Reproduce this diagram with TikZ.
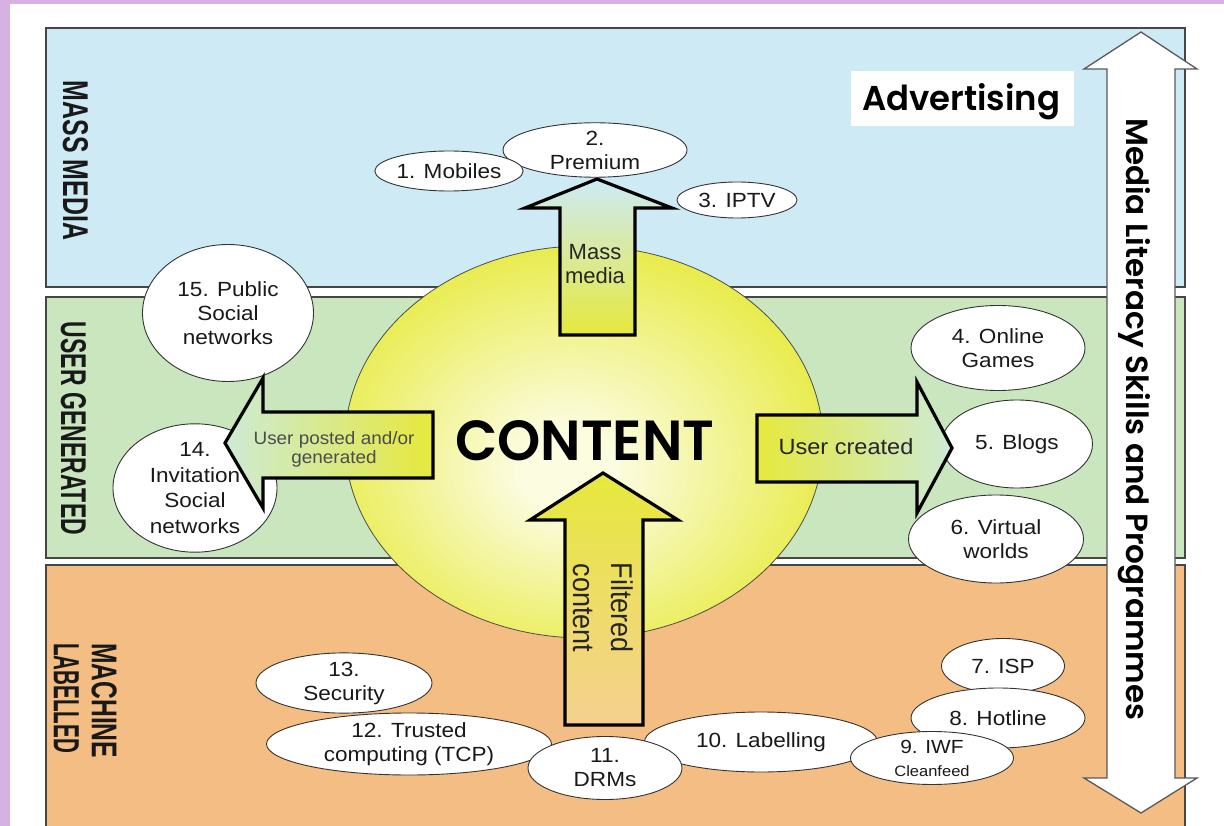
\documentclass[tikz,border=0pt]{standalone}
\usepackage{fontspec}
\setmainfont{Liberation Sans}
\newfontfamily\geo{Poppins SemiBold}
\usepackage{graphicx}
\usetikzlibrary{shapes.geometric}

\definecolor{bglav}{RGB}{214,178,226}
\definecolor{bandblue}{RGB}{206,234,245}
\definecolor{bandgreen}{RGB}{201,230,191}
\definecolor{bandorange}{RGB}{244,189,131}
\definecolor{bandline}{RGB}{70,70,70}
\definecolor{arrblue}{RGB}{205,235,245}
\definecolor{arryel}{RGB}{230,233,60}
\definecolor{arrgreen}{RGB}{205,234,214}
\definecolor{arrorange}{RGB}{246,208,145}
\definecolor{cyel}{RGB}{228,232,42}
\definecolor{cpale}{RGB}{252,252,225}

\pgfdeclareradialshading{contentshade}{\pgfpoint{-2bp}{-4bp}}{%
  color(0bp)=(cpale); color(5bp)=(cpale); color(32bp)=(cyel); color(50bp)=(cyel)}

\begin{document}
\begin{tikzpicture}[x=1pt,y=-1pt,
  band/.style={draw=bandline, line width=1.2pt},
  lab/.style={ellipse, draw=black!80, line width=0.9pt, fill=white, inner sep=0pt,
    align=center, text=black!90, font=\fontsize{20.5}{24}\selectfont, xscale=1.1},
  el/.style 2 args={lab, minimum width={#1pt/1.1}, minimum height={#2pt}},
  barrow/.style={draw=black, line width=3.2pt, line join=miter},
  side/.style={rotate=-90, inner sep=0pt, align=left, text=black!90,
    font=\fontsize{20}{38}\selectfont\bfseries},
  arrtxt/.style={inner sep=0pt, align=center, text=black!85},
]
\useasboundingbox (0,0) rectangle (1224,826);

% background
\fill[bglav] (0,0) rectangle (1224,826);
\fill[white] (10,4) rectangle (1224,828);

% bands
\path[fill=bandblue, band] (46,28) rectangle (1185,287);
\path[fill=bandgreen, band] (46,297) rectangle (1185,558);
\path[fill=bandorange, band] (46,565) rectangle (1185,840);

% band labels
\node[side] (lmass) at (75.5,160.5) {\resizebox{159pt}{25pt}{MASS MEDIA}};
\node[side] (luser) at (73.5,428.5) {\resizebox{213pt}{25pt}{USER GENERATED}};
\node[side, anchor=north west] (lmach) at (117,643)
  {\resizebox{115pt}{25pt}{MACHINE}\\\resizebox{110pt}{25pt}{LABELLED}};

% advertising
\node[fill=white, minimum width=223pt, minimum height=55pt, inner sep=0pt] (advbox) at (962.5,98.5) {};
\node[anchor=north west, inner sep=0pt] (advtext) at (862,83)
  {\resizebox{198pt}{27pt}{\geo Advertising}};

% central content ellipse
\node[ellipse, draw=black!70, line width=0.8pt, shade, shading=contentshade,
  minimum width=478pt, minimum height=392pt, inner sep=0pt] (content) at (584,442) {};
\node[anchor=north west, inner sep=0pt] (ctext) at (455,420)
  {\resizebox{259pt}{40pt}{\geo CONTENT}};

% mass media ellipses
\node[el={184}{54}] (e2) at (595,150) {2.\\Premium};
\node[el={142}{40}] (e1) at (449,171) {1. Mobiles};
\node[el={120}{36}] (e3) at (737,200) {3. IPTV};

% user generated ellipses
\node[el={171}{137}] (e15) at (228,313) {15. Public\\Social\\networks};
\node[el={164}{116}, font=\fontsize{20.5}{25.5}\selectfont] (e14) at (195,488) {14.\\Invitation\\Social\\networks};
\node[el={174}{85}] (e4) at (998,348) {4. Online\\Games};
\node[el={151}{88}] (e5) at (1017,444) {5. Blogs};
\node[el={175}{88}] (e6) at (996,539) {6. Virtual\\worlds};

% machine labelled ellipses
\node[el={123}{55}] (e7) at (1003,666) {7. ISP};
\node[el={174}{60}] (e8) at (998,718) {8. Hotline};
\node[el={233}{60}] (e10) at (761,742) {10. Labelling};
\node[el={163}{53}, font=\fontsize{19}{23}\selectfont] (e9) at (932,758) {9. IWF\\{\fontsize{15}{17}\selectfont Cleanfeed}};
\node[el={176}{59}] (e13) at (344,683) {13.\\Security};
\node[el={285}{62}] (e12) at (409,744) {12. Trusted\\computing (TCP)};
\node[el={154}{63}] (e11) at (605,768) {11.\\DRMs};

% block arrows
\path[barrow, top color=arrblue, bottom color=arryel]
  (597,179) -- (672,208) -- (635,208) -- (635,335) -- (560,335) -- (560,208) -- (525,208) -- cycle;
\path[barrow, left color=arrgreen, right color=arryel]
  (225,443) -- (263,378) -- (263,412) -- (433,412) -- (433,478) -- (263,478) -- (263,508) -- cycle;
\path[barrow, left color=arryel, right color=arrgreen]
  (757,415) -- (917,415) -- (917,382) -- (952,448) -- (917,513) -- (917,482) -- (757,482) -- cycle;
\path[barrow, top color=arryel, bottom color=arrorange]
  (603,473) -- (678,520) -- (643,520) -- (643,725) -- (565,725) -- (565,520) -- (530,520) -- cycle;

\node[arrtxt, font=\fontsize{22}{24}\selectfont] (tmass) at (595,264) {Mass\\media};
\node[arrtxt, font=\fontsize{18}{19}\selectfont, xscale=1.05, text=black!70] (tposted) at (334,449) {User posted and/or\\generated};
\node[arrtxt, font=\fontsize{22}{24}\selectfont, xscale=1.07] (tcreated) at (846,447) {User created};
\node[arrtxt, font=\fontsize{30}{38}\selectfont, rotate=-90, xscale=0.9] (tfilt) at (603,608) {Filtered\\content};

% media literacy double arrow
\path[draw=black!65, line width=1.3pt, fill=white, line join=miter]
  (1141,32) -- (1197,69) -- (1175,69) -- (1175,778) -- (1197,778) -- (1141,813)
  -- (1084,778) -- (1107,778) -- (1107,69) -- (1084,69) -- cycle;
\node[rotate=-90, anchor=north west, inner sep=0pt] (mlit) at (1151,118)
  {\resizebox{602pt}{24pt}{\geo Media Literacy Skills and Programmes}};
\end{tikzpicture}
\end{document}
